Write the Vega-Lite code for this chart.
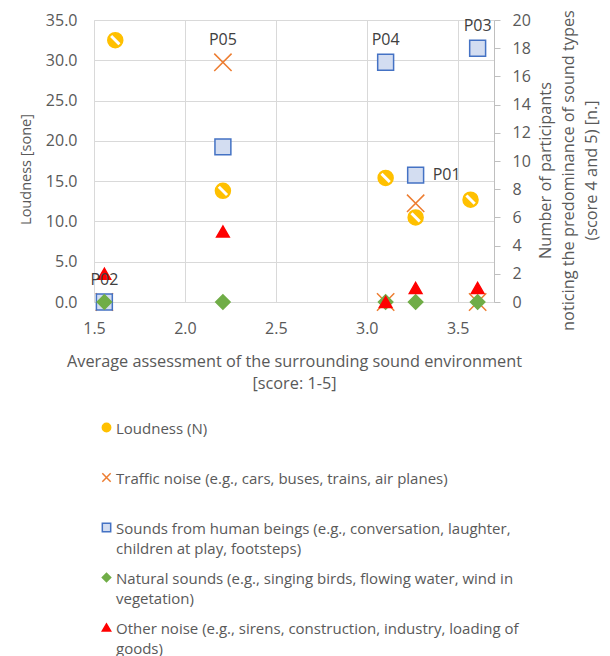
{
  "$schema": "https://vega.github.io/schema/vega-lite/v6.json",
  "width": 400,
  "height": 282,
  "autosize": {"type": "none"},
  "padding": {"left": 94, "top": 20, "right": 116, "bottom": 354},
  "background": "white",
  "config": {
    "font": "Open Sans",
    "view": {"stroke": null},
    "style": {"guide-label": {"lineHeight": 20, "dy": 6}},
    "axis": {
      "labelFont": "Open Sans",
      "labelFontSize": 16,
      "labelColor": "#595959",
      "labelFlush": false,
      "labelOverlap": false,
      "titleFont": "Open Sans",
      "titleFontSize": 16.3,
      "titleColor": "#595959",
      "titleFontWeight": "normal",
      "gridColor": "#d9d9d9",
      "domainColor": "#d9d9d9",
      "tickColor": "#bfbfbf"
    }
  },
  "datasets": {
    "loud": [
      {"site": "P02", "score": 1.617, "loudness": 32.5, "series": "Loudness (N)"},
      {"site": "P05", "score": 2.209, "loudness": 13.8, "series": "Loudness (N)"},
      {"site": "P04", "score": 3.104, "loudness": 15.4, "series": "Loudness (N)"},
      {"site": "P01", "score": 3.269, "loudness": 10.5, "series": "Loudness (N)"},
      {"site": "P03", "score": 3.571, "loudness": 12.7, "series": "Loudness (N)"}
    ],
    "counts": [
      {"site": "P02", "score": 1.557, "n": 0, "series": "Traffic noise (e.g., cars, buses, trains, air planes)"},
      {"site": "P05", "score": 2.209, "n": 17, "series": "Traffic noise (e.g., cars, buses, trains, air planes)"},
      {"site": "P04", "score": 3.104, "n": 0, "series": "Traffic noise (e.g., cars, buses, trains, air planes)"},
      {"site": "P01", "score": 3.269, "n": 7, "series": "Traffic noise (e.g., cars, buses, trains, air planes)"},
      {"site": "P03", "score": 3.61, "n": 0, "series": "Traffic noise (e.g., cars, buses, trains, air planes)"},
      {"site": "P02", "score": 1.557, "n": 0, "series": "Sounds from human beings (e.g., conversation, laughter, children at play, footsteps)"},
      {"site": "P05", "score": 2.209, "n": 11, "series": "Sounds from human beings (e.g., conversation, laughter, children at play, footsteps)"},
      {"site": "P04", "score": 3.104, "n": 17, "series": "Sounds from human beings (e.g., conversation, laughter, children at play, footsteps)"},
      {"site": "P01", "score": 3.269, "n": 9, "series": "Sounds from human beings (e.g., conversation, laughter, children at play, footsteps)"},
      {"site": "P03", "score": 3.61, "n": 18, "series": "Sounds from human beings (e.g., conversation, laughter, children at play, footsteps)"},
      {"site": "P02", "score": 1.557, "n": 0, "series": "Natural sounds (e.g., singing birds, flowing water, wind in vegetation)"},
      {"site": "P05", "score": 2.209, "n": 0, "series": "Natural sounds (e.g., singing birds, flowing water, wind in vegetation)"},
      {"site": "P04", "score": 3.104, "n": 0, "series": "Natural sounds (e.g., singing birds, flowing water, wind in vegetation)"},
      {"site": "P01", "score": 3.269, "n": 0, "series": "Natural sounds (e.g., singing birds, flowing water, wind in vegetation)"},
      {"site": "P03", "score": 3.61, "n": 0, "series": "Natural sounds (e.g., singing birds, flowing water, wind in vegetation)"},
      {"site": "P02", "score": 1.557, "n": 2, "series": "Other noise (e.g., sirens, construction, industry, loading of goods)"},
      {"site": "P05", "score": 2.209, "n": 5, "series": "Other noise (e.g., sirens, construction, industry, loading of goods)"},
      {"site": "P04", "score": 3.104, "n": 0, "series": "Other noise (e.g., sirens, construction, industry, loading of goods)"},
      {"site": "P01", "score": 3.269, "n": 1, "series": "Other noise (e.g., sirens, construction, industry, loading of goods)"},
      {"site": "P03", "score": 3.61, "n": 1, "series": "Other noise (e.g., sirens, construction, industry, loading of goods)"}
    ],
    "labels": [
      {"site": "P02", "score": 1.557, "n": 0},
      {"site": "P05", "score": 2.209, "n": 17},
      {"site": "P04", "score": 3.104, "n": 17},
      {"site": "P03", "score": 3.61, "n": 18},
      {"site": "P01", "score": 3.269, "n": 9}
    ]
  },
  "layer": [
    {
      "data": {"name": "loud"},
      "layer": [
        {
          "mark": {"type": "point", "filled": true, "size": 225, "strokeWidth": 1.5, "opacity": 1},
          "encoding": {
            "x": {
              "field": "score", "type": "quantitative",
              "scale": {"domain": [1.5, 3.7], "nice": false, "zero": false},
              "axis": {
                "values": [1.5, 2, 2.5, 3, 3.5], "format": ".1f", "grid": true, "ticks": false, "tickSize": 0,
                "labelPadding": 12, "labelOverlap": false, "title": ["Average assessment of the surrounding sound environment", "[score: 1-5]"],
                "titlePadding": 17, "titleLineHeight": 22
              }
            },
            "y": {
              "field": "loudness", "type": "quantitative",
              "scale": {"domain": [0, 35], "nice": false},
              "axis": {
                "values": [0, 5, 10, 15, 20, 25, 30, 35], "format": ".1f", "grid": true, "ticks": false, "tickSize": 0,
                "labelPadding": 17, "labelOffset": -6, "labelOverlap": false, "title": "Loudness [sone]", "titleFontSize": 14.5, "titlePadding": 12, "titleY": 149
              }
            },
            "fill": {
              "field": "series", "type": "nominal",
              "scale": {
                "domain": ["Loudness (N)", "Traffic noise (e.g., cars, buses, trains, air planes)", "Sounds from human beings (e.g., conversation, laughter, children at play, footsteps)", "Natural sounds (e.g., singing birds, flowing water, wind in vegetation)", "Other noise (e.g., sirens, construction, industry, loading of goods)"],
                "range": ["#FFC000", "transparent", "#d3ddf1", "#70AD47", "#FF0000"]
              },
              "legend": {
                "orient": "none", "legendX": 5, "legendY": 400, "direction": "vertical", "title": null,
                "labelFont": "Open Sans", "labelFontSize": 15, "labelColor": "#595959", "labelLimit": 600,
                "labelBaseline": "alphabetic", "symbolSize": 70, "symbolStrokeWidth": 1.5, "rowPadding": 13, "labelOffset": 2,
                "labelExpr": "datum.label == 'Loudness (N)' ? ['Loudness (N)', ''] : datum.label == 'Traffic noise (e.g., cars, buses, trains, air planes)' ? [datum.label, ''] : datum.label == 'Sounds from human beings (e.g., conversation, laughter, children at play, footsteps)' ? ['Sounds from human beings (e.g., conversation, laughter,', 'children at play, footsteps)'] : datum.label == 'Natural sounds (e.g., singing birds, flowing water, wind in vegetation)' ? ['Natural sounds (e.g., singing birds, flowing water, wind in', 'vegetation)'] : ['Other noise (e.g., sirens, construction, industry, loading of', 'goods)']"
              }
            },
            "stroke": {
              "field": "series", "type": "nominal",
              "scale": {
                "domain": ["Loudness (N)", "Traffic noise (e.g., cars, buses, trains, air planes)", "Sounds from human beings (e.g., conversation, laughter, children at play, footsteps)", "Natural sounds (e.g., singing birds, flowing water, wind in vegetation)", "Other noise (e.g., sirens, construction, industry, loading of goods)"],
                "range": ["#FFC000", "#ED7D31", "#4472C4", "#70AD47", "#FF0000"]
              }
            },
            "shape": {
              "field": "series", "type": "nominal",
              "scale": {
                "domain": ["Loudness (N)", "Traffic noise (e.g., cars, buses, trains, air planes)", "Sounds from human beings (e.g., conversation, laughter, children at play, footsteps)", "Natural sounds (e.g., singing birds, flowing water, wind in vegetation)", "Other noise (e.g., sirens, construction, industry, loading of goods)"],
                "range": ["circle", "M-1,-1L1,1M-1,1L1,-1", "square", "diamond", "triangle-up"]
              }
            }
          }
        },
        {
          "mark": {"type": "point", "shape": "M-0.55,-0.55L0.55,0.55", "size": 225, "filled": false, "stroke": "white", "strokeWidth": 3, "opacity": 1},
          "encoding": {
            "x": {"field": "score", "type": "quantitative"},
            "y": {"field": "loudness", "type": "quantitative"}
          }
        }
      ]
    },
    {
      "layer": [
        {
          "data": {"name": "counts"},
          "mark": {"type": "point", "filled": true, "strokeWidth": 1.5, "opacity": 1},
          "encoding": {
            "x": {"field": "score", "type": "quantitative"},
            "y": {
              "field": "n", "type": "quantitative",
              "scale": {"domain": [0, 20], "nice": false},
              "axis": {
                "orient": "right", "values": [0, 2, 4, 6, 8, 10, 12, 14, 16, 18, 20], "tickCount": 11, "grid": false,
                "ticks": true, "tickSize": 6, "labelPadding": 12, "labelOffset": -6, "labelOverlap": false, "domainColor": "#bfbfbf",
                "title": ["Number of participants", "noticing the predominance of sound types", "(score 4 and 5) [n.]"],
                "titleAngle": 270, "titleLineHeight": 23, "titlePadding": -23, "titleY": 150
              }
            },
            "fill": {"field": "series", "type": "nominal"},
            "stroke": {"field": "series", "type": "nominal"},
            "shape": {"field": "series", "type": "nominal"},
            "size": {
              "field": "series", "type": "ordinal", "legend": null,
              "scale": {
                "domain": ["Traffic noise (e.g., cars, buses, trains, air planes)", "Sounds from human beings (e.g., conversation, laughter, children at play, footsteps)", "Natural sounds (e.g., singing birds, flowing water, wind in vegetation)", "Other noise (e.g., sirens, construction, industry, loading of goods)"],
                "range": [300, 160, 175, 170]
              }
            }
          }
        },
        {
          "data": {"name": "labels"},
          "transform": [{"filter": "datum.site != 'P01'"}],
          "mark": {"type": "text", "dy": -22, "baseline": "middle", "align": "center", "font": "Open Sans", "fontSize": 16, "color": "#404040"},
          "encoding": {
            "x": {"field": "score", "type": "quantitative"},
            "y": {"field": "n", "type": "quantitative"},
            "text": {"field": "site"}
          }
        },
        {
          "data": {"name": "labels"},
          "transform": [{"filter": "datum.site == 'P01'"}],
          "mark": {"type": "text", "dx": 17, "baseline": "middle", "align": "left", "font": "Open Sans", "fontSize": 16, "color": "#404040"},
          "encoding": {
            "x": {"field": "score", "type": "quantitative"},
            "y": {"field": "n", "type": "quantitative"},
            "text": {"field": "site"}
          }
        }
      ]
    }
  ],
  "resolve": {"scale": {"y": "independent"}}
}
